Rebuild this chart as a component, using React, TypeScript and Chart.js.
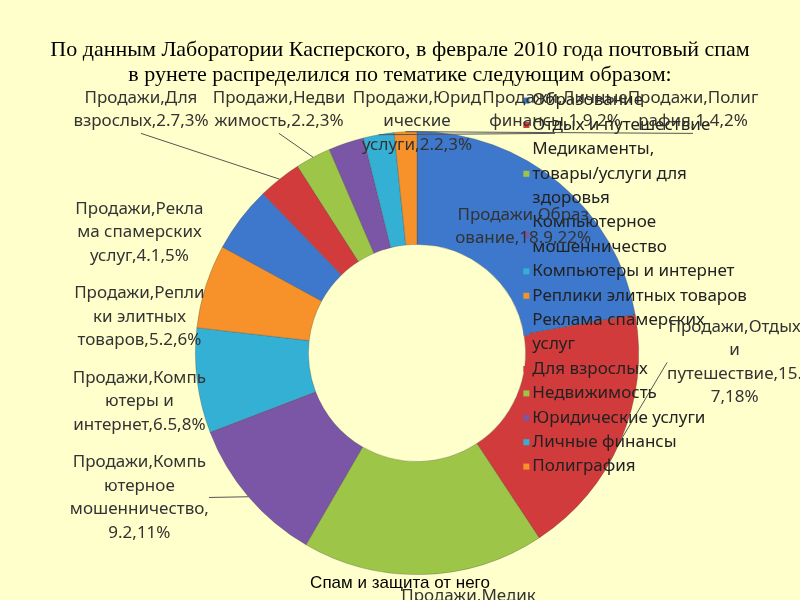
import React, { useEffect, useRef } from 'react';
import { Chart, registerables } from 'chart.js';

Chart.register(...registerables);

const slideTitle = [
  'По данным Лаборатории Касперского, в феврале 2010 года почтовый спам',
  'в рунете распределился по тематике следующим образом:',
];
const chartTitle = 'Спам и защита от него';
const seriesName = 'Продажи';
const categories = [
  'Образование',
  'Отдых и путешествие',
  'Медикаменты, товары/услуги для здоровья',
  'Компьютерное мошенничество',
  'Компьютеры и интернет',
  'Реплики элитных товаров',
  'Реклама спамерских услуг',
  'Для взрослых',
  'Недвижимость',
  'Юридические услуги',
  'Личные финансы',
  'Полиграфия',
];
const values = [18.9, 15.7, 15.0, 9.2, 6.5, 5.2, 4.1, 2.7, 2.2, 2.2, 1.9, 1.4];
const colors = [
  '#3D78CC', '#D23B3B', '#9DC648', '#7B55A6', '#35B0D5', '#F7922A',
  '#3D78CC', '#D23B3B', '#9DC648', '#7B55A6', '#35B0D5', '#F7922A',
];

const BG = '#FFFFCC';
const LABEL_FONT = '17px "Noto Sans"';
const LABEL_LH = 23.5;
const LABEL_W = 138;
const LABEL_TOL = 8;
const LEGEND_FONT = '17px "Noto Sans"';
const LEGEND_LH = 24.4;
const LEGEND_W = 217;

function wrap(ctx: CanvasRenderingContext2D, text: string, maxW: number, tol: number): string[] {
  const words = text.split(' ');
  const lines: string[] = [];
  let cur = '';
  for (const w of words) {
    const trial = cur ? cur + ' ' + w : w;
    if (ctx.measureText(trial).width <= maxW) {
      cur = trial;
      continue;
    }
    if (cur) {
      lines.push(cur);
      cur = '';
    }
    let piece = w;
    while (ctx.measureText(piece).width > maxW + tol && piece.length > 1) {
      let k = piece.length;
      while (k > 1 && ctx.measureText(piece.slice(0, k)).width > maxW) k--;
      if (piece[k] === ',' && k < piece.length - 1) k++;
      lines.push(piece.slice(0, k));
      piece = piece.slice(k);
    }
    cur = piece;
  }
  if (cur) lines.push(cur);
  return lines;
}

const overlayPlugin = {
  id: 'overlay',
  afterDraw(chart: any) {
    const ctx: CanvasRenderingContext2D = chart.ctx;
    const W = chart.width;
    const meta = chart.getDatasetMeta(0);
    const arcs = meta.data as any[];
    if (!arcs.length) return;
    const cx = arcs[0].x;
    const cy = arcs[0].y;
    const R = arcs[0].outerRadius;
    const r0 = arcs[0].innerRadius;
    const data = chart.data.datasets[0].data as number[];
    const total = data.reduce((a, b) => a + b, 0);

    ctx.save();
    // slide title
    ctx.fillStyle = '#000';
    ctx.textAlign = 'center';
    ctx.textBaseline = 'middle';
    ctx.font = '22px "Liberation Serif"';
    slideTitle.forEach((t, i) => ctx.fillText(t, W / 2, 50 + i * 25));

    // chart title
    ctx.font = '17px "Liberation Sans"';
    ctx.fillText(chartTitle, W / 2, cy + R + 9);

    // legend
    ctx.font = LEGEND_FONT;
    const legX = cx + R * 0.48;
    let ly = cy - R - 43;
    categories.forEach((c, i) => {
      const lines = wrap(ctx, c, LEGEND_W, 0);
      const h = lines.length * LEGEND_LH;
      ctx.fillStyle = colors[i];
      ctx.fillRect(legX, ly + h / 2 - 3, 6, 6);
      ctx.fillStyle = '#222';
      ctx.textAlign = 'left';
      lines.forEach((ln, k) => ctx.fillText(ln, legX + 9, ly + LEGEND_LH / 2 + k * LEGEND_LH));
      ly += h;
    });

    // data labels
    ctx.font = LABEL_FONT;
    type L = { i: number; lines: string[]; w: number; h: number; x: number; y: number; group: string; ax: number; ay: number };
    const labels: L[] = [];
    arcs.forEach((arc, i) => {
      const mid = (arc.startAngle + arc.endAngle) / 2;
      let deg = ((mid + Math.PI / 2) * 180) / Math.PI;
      deg = ((deg % 360) + 360) % 360;
      const pct = Math.round((data[i] / total) * 100);
      const text = `${seriesName},${categories[i]},${data[i]},${pct}%`;
      const lines = wrap(ctx, text, LABEL_W, LABEL_TOL);
      const w = Math.max(...lines.map((l) => ctx.measureText(l).width));
      const h = lines.length * LABEL_LH;
      const ax = cx + Math.cos(mid) * R;
      const ay = cy + Math.sin(mid) * R;
      let group = 'right';
      if (data[i] / total > 0.2) group = 'inside';
      else if (deg >= 315) group = 'top';
      else if (deg >= 200) group = 'left';
      else if (deg >= 150) group = 'bottom';
      let x = 0;
      let y = 0;
      if (group === 'inside') {
        const rm = (R + r0) / 2;
        x = cx + Math.cos(mid) * rm;
        y = cy + Math.sin(mid) * rm;
      } else if (group === 'left') {
        x = cx - R - 56;
        y = cy + Math.sin(mid) * R * 0.9;
      } else if (group === 'right') {
        x = cx + R + 96;
        y = cy + LABEL_LH * 0.4;
      } else if (group === 'bottom') {
        x = ax + 45;
        y = cy + R + 10 + h / 2;
      }
      labels.push({ i, lines, w, h, x, y, group, ax, ay });
    });
    // top row
    const top = labels.filter((l) => l.group === 'top');
    top.forEach((l, k) => {
      l.x = cx + (k - (top.length - 1) / 2) * 138;
      l.y = cy - R - 45 + l.h / 2;
    });
    // left column: resolve overlaps downward
    const left = labels.filter((l) => l.group === 'left').sort((a, b) => a.y - b.y);
    let prevBottom = -Infinity;
    left.forEach((l) => {
      if (l.y - l.h / 2 < prevBottom + 14) l.y = prevBottom + 14 + l.h / 2;
      prevBottom = l.y + l.h / 2;
    });

    // leader lines
    ctx.strokeStyle = '#555';
    ctx.lineWidth = 1;
    labels.forEach((l) => {
      if (l.group === 'inside') return;
      let px = l.x;
      let py = l.y;
      if (l.group === 'left') px = l.x + l.w / 2;
      else if (l.group === 'right') px = l.x - l.w / 2;
      else if (l.group === 'top') py = l.y + l.h / 2;
      else py = l.y - l.h / 2;
      const d = Math.hypot(px - cx, py - cy);
      if (d < R + 25) return;
      ctx.beginPath();
      ctx.moveTo(px, py);
      ctx.lineTo(l.ax, l.ay);
      ctx.stroke();
    });

    ctx.fillStyle = '#333';
    ctx.textAlign = 'center';
    labels.forEach((l) => {
      l.lines.forEach((ln, k) => {
        ctx.fillText(ln, l.x, l.y - l.h / 2 + LABEL_LH / 2 + k * LABEL_LH);
      });
    });
    ctx.restore();
  },
};

export default function App() {
  const ref = useRef<HTMLCanvasElement | null>(null);
  useEffect(() => {
    document.body.style.margin = '0';
    if (!ref.current) return;
    const chart = new Chart(ref.current, {
      type: 'doughnut',
      data: {
        labels: categories,
        datasets: [
          {
            label: seriesName,
            data: values,
            backgroundColor: colors,
            borderColor: 'rgba(60,60,60,0.35)',
            borderWidth: 0.8,
          },
        ],
      },
      options: {
        animation: false,
        responsive: false,
        devicePixelRatio: 1,
        cutout: '49%',
        layout: { padding: { left: 195, right: 161, top: 131, bottom: 25 } },
        plugins: {
          legend: { display: false },
          title: { display: false },
          tooltip: { enabled: false },
        },
      },
      plugins: [overlayPlugin],
    });
    return () => chart.destroy();
  }, []);
  return (
    <div style={{ width: 800, height: 600, background: BG, overflow: 'hidden' }}>
      <canvas ref={ref} width={800} height={600} style={{ display: 'block' }} />
    </div>
  );
}
